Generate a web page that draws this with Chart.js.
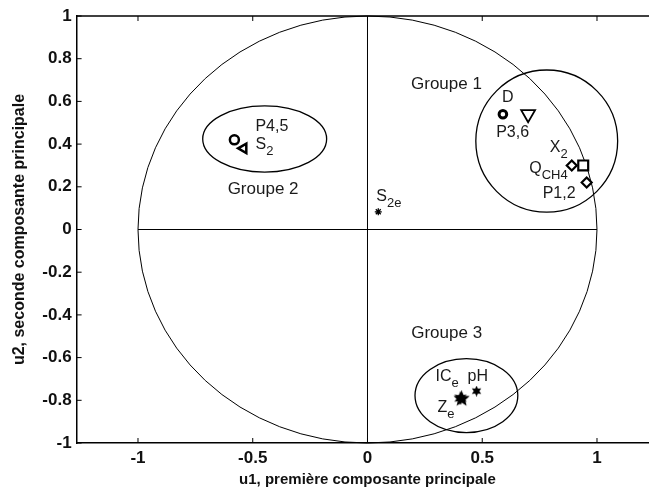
<!DOCTYPE html>
<html>
<head>
<meta charset="utf-8">
<script src="https://cdn.jsdelivr.net/npm/chart.js@4"></script>
<style>
html, body { margin: 0; padding: 0; overflow: hidden; background: #fff; }
</style>
</head>
<body>
<canvas id="acp" width="649" height="490"></canvas>
<script>
// variables projetees sur le plan principal (u1, u2)
const variables = ['P4,5', 'S2', 'D', 'P3,6', 'X2', 'QCH4', 'P1,2', 'S2e', 'ICe', 'Ze', 'pH'];
const u1 = [-0.58, -0.54, 0.59, 0.70, 0.89, 0.94, 0.955, 0.047, 0.405, 0.41, 0.475];
const u2 = [0.42, 0.38, 0.54, 0.54, 0.30, 0.30, 0.22, 0.083, -0.79, -0.793, -0.757];

const groupes = ['Groupe 1', 'Groupe 2', 'Groupe 3'];

const ticksX = [-1, -0.5, 0, 0.5, 1];
const ticksY = [-1, -0.8, -0.6, -0.4, -0.2, 0, 0.2, 0.4, 0.6, 0.8, 1];

const titreX = 'u1, première composante principale';
const titreY = 'u2, seconde composante principale';

const police = 'Arial, "Liberation Sans", sans-serif';

// petite etoile pleine dessinee dans un canvas (pointStyle image)
const etoile = (taille, branches, creux) => {
    const c = document.createElement('canvas');
    c.width = c.height = taille;
    const g = c.getContext('2d');
    const r = taille / 2;
    g.beginPath();
    for (let i = 0; i < branches * 2; i++) {
        const a = -Math.PI / 2 + i * Math.PI / branches;
        const rr = i % 2 ? r * creux : r;
        g.lineTo(r + rr * Math.cos(a), r + rr * Math.sin(a));
    }
    g.closePath();
    g.fillStyle = '#000';
    g.fill();
    return c;
};

const marqueurs = {
    'P4,5': { style: 'circle', r: 4.5, bw: 2.5 },
    'S2': { style: 'triangle', r: 5.5, bw: 2.5, rot: -90 },
    'D': { style: 'circle', r: 3.8, bw: 3 },
    'P3,6': { style: 'triangle', r: 8, bw: 1.8, rot: 180 },
    'X2': { style: 'rectRot', r: 5, bw: 2.2 },
    'QCH4': { style: 'rect', r: 7, bw: 2.2 },
    'P1,2': { style: 'rectRot', r: 5, bw: 2.2 },
    'S2e': { style: 'star', r: 3.5, bw: 1.3 },
    'ICe': { style: etoile(14, 6, 0.5) },
    'Ze': { style: etoile(17, 5, 0.45) },
    'pH': { style: etoile(11, 6, 0.5) }
};

// texte, indice, decalage en px par rapport au point
const etiquettes = {
    'P4,5': ['P4,5', '', 21, -13],
    'S2': ['S', '2', 12, -4],
    'D': ['D', '', -1, -17],
    'P3,6': ['P3,6', '', -32, 18],
    'X2': ['X', '2', -22, -18],
    'QCH4': ['Q', 'CH4', -54, 3],
    'P1,2': ['P1,2', '', -44, 11],
    'S2e': ['S', '2e', -2, -15],
    'ICe': ['IC', 'e', -25, -22],
    'pH': ['pH', '', -9, -15],
    'Ze': ['Z', 'e', -24, 9]
};

// ellipses des groupes (unites des axes)
const ellipses = [
    { cx: 0.781, cy: 0.414, rx: 0.309, ry: 0.333, lx: 0.344, ly: 0.681 },
    { cx: -0.448, cy: 0.424, rx: 0.270, ry: 0.155, lx: -0.455, ly: 0.188 },
    { cx: 0.431, cy: -0.778, rx: 0.224, ry: 0.173, lx: 0.345, ly: -0.485 }
];

const cercle = {
    id: 'cercle',
    beforeDatasetsDraw(chart) {
        const { ctx, chartArea: a, scales: { x, y } } = chart;
        const x0 = x.getPixelForValue(0), y0 = y.getPixelForValue(0);
        ctx.save();
        ctx.strokeStyle = '#000';

        // cercle des correlations
        ctx.lineWidth = 1;
        ctx.beginPath();
        ctx.ellipse(x0, y0, x.getPixelForValue(1) - x0, y0 - y.getPixelForValue(1), 0, 0, 2 * Math.PI);
        ctx.stroke();

        // axes du cercle
        ctx.beginPath();
        ctx.moveTo(x.getPixelForValue(-1), y0);
        ctx.lineTo(x.getPixelForValue(1), y0);
        ctx.moveTo(x0, y.getPixelForValue(-1));
        ctx.lineTo(x0, y.getPixelForValue(1));
        ctx.stroke();

        // groupes
        ctx.lineWidth = 1.3;
        ellipses.forEach(e => {
            const cx = x.getPixelForValue(e.cx), cy = y.getPixelForValue(e.cy);
            ctx.beginPath();
            ctx.ellipse(cx, cy, x.getPixelForValue(e.cx + e.rx) - cx, cy - y.getPixelForValue(e.cy + e.ry), 0, 0, 2 * Math.PI);
            ctx.stroke();
        });

        // cadre du haut + petites graduations vers l'interieur
        ctx.lineWidth = 1.5;
        ctx.beginPath();
        ctx.moveTo(a.left, a.top);
        ctx.lineTo(a.right, a.top);
        ctx.stroke();
        ctx.lineWidth = 1;
        ctx.beginPath();
        ticksX.forEach(v => {
            const px = x.getPixelForValue(v);
            ctx.moveTo(px, a.bottom);
            ctx.lineTo(px, a.bottom - 5);
            ctx.moveTo(px, a.top);
            ctx.lineTo(px, a.top + 5);
        });
        ticksY.forEach(v => {
            const py = y.getPixelForValue(v);
            ctx.moveTo(a.left, py);
            ctx.lineTo(a.left + 5, py);
        });
        ctx.stroke();
        ctx.restore();
    },
    afterDatasetsDraw(chart) {
        const { ctx, chartArea: a, scales: { x, y } } = chart;
        ctx.save();
        ctx.fillStyle = '#1a1a1a';
        ctx.textBaseline = 'middle';

        ctx.textAlign = 'center';
        ctx.font = '17px ' + police;
        groupes.forEach((g, i) => {
            ctx.fillText(g, x.getPixelForValue(ellipses[i].lx), y.getPixelForValue(ellipses[i].ly));
        });

        ctx.textAlign = 'left';
        variables.forEach((v, i) => {
            const e = etiquettes[v];
            if (!e) return;
            const px = x.getPixelForValue(u1[i]) + e[2];
            const py = y.getPixelForValue(u2[i]) + e[3];
            ctx.font = '16px ' + police;
            ctx.fillText(e[0], px, py);
            if (e[1]) {
                const w = ctx.measureText(e[0]).width;
                ctx.font = '13px ' + police;
                ctx.fillText(e[1], px + w, py + 7);
            }
        });

        // titre de l'axe x, centre sur u1 = 0 (le cadre d'origine deborde a droite)
        ctx.fillStyle = '#111';
        ctx.textAlign = 'center';
        ctx.font = 'bold 15px ' + police;
        ctx.fillText(titreX, x.getPixelForValue(0), a.bottom + 36.5);
        ctx.restore();
    }
};

const ctx = document.getElementById('acp').getContext('2d');

new Chart(ctx, {
    type: 'scatter',
    data: {
        datasets: [{
            data: u1.map((v, i) => ({ x: v, y: u2[i] })),
            pointStyle: variables.map(v => marqueurs[v].style),
            pointRadius: variables.map(v => marqueurs[v].r || 5),
            pointBorderWidth: variables.map(v => marqueurs[v].bw || 0),
            pointRotation: variables.map(v => marqueurs[v].rot || 0),
            pointBackgroundColor: '#fff',
            pointBorderColor: '#000'
        }]
    },
    options: {
        responsive: false,
        animation: false,
        layout: { autoPadding: false, padding: { top: 16, right: 0, left: 0, bottom: 0 } },
        plugins: {
            legend: { display: false },
            tooltip: { enabled: false }
        },
        scales: {
            x: {
                type: 'linear',
                min: -1.2675,
                max: 1.2266,
                afterBuildTicks: s => { s.ticks = ticksX.map(v => ({ value: v })); },
                afterFit: s => {
                    s.height = 47;
                    s.paddingLeft = 0;
                    s.paddingRight = 0;
                },
                grid: { display: false, drawTicks: false },
                border: { color: '#000', width: 1.5 },
                ticks: {
                    padding: 5,
                    color: '#111',
                    font: { family: police, size: 17, weight: 'bold' },
                    callback: v => String(v)
                }
            },
            y: {
                type: 'linear',
                min: -1,
                max: 1,
                afterBuildTicks: s => { s.ticks = ticksY.map(v => ({ value: v })); },
                afterFit: s => { s.width = 76.6; },
                grid: { display: false, drawTicks: false },
                border: { color: '#000', width: 1.5 },
                ticks: {
                    padding: 5,
                    color: '#111',
                    font: { family: police, size: 17, weight: 'bold' },
                    callback: v => String(v)
                },
                title: {
                    display: true,
                    text: titreY,
                    color: '#111',
                    font: { family: police, size: 16, weight: 'bold' },
                    padding: { top: 10, bottom: 0 }
                }
            }
        }
    },
    plugins: [cercle]
});
</script>
</body>
</html>
